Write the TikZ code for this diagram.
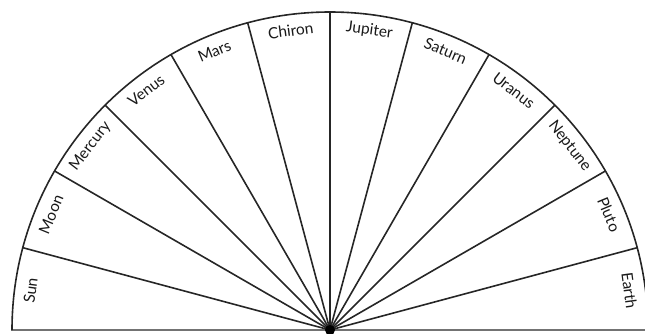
\documentclass[tikz,border=0pt]{standalone}
\usepackage{fontspec}
\setmainfont{Lato}
\usetikzlibrary{calc}
\begin{document}
\begin{tikzpicture}[x=1pt,y=1pt,
  spoke/.style={line width=1.6pt,black!85},
  rim/.style={line width=1.6pt,black!85},
  base/.style={line width=1.8pt,black!55},
  lbl/.style={font=\fontsize{15.5}{15.5}\selectfont,inner sep=0pt,text=black!90}]
\useasboundingbox (0,0) rectangle (645,333);
\coordinate (c) at (330,3);
\coordinate (bl) at (11,3);
\coordinate (br) at (645,3);
\draw[base] (bl) -- (br);
\draw[rim] (c) ++(180:318) arc[start angle=180,end angle=0,radius=318];
\foreach \a in {15,30,...,165}{
  \draw[spoke] (c) -- ++(\a:318);
}
\fill (c) circle[radius=5];
\foreach \n/\a in {Sun/172.5,Moon/157.5,Mercury/142.5,Venus/127.5,Mars/112.5,Chiron/97.5,Jupiter/82.5,Saturn/67.5,Uranus/52.5,Neptune/37.5,Pluto/22.5,Earth/7.5}{
  \node[lbl,rotate=\a-90] (\n) at ($(c)+(\a:302)$) {\n};
}
\end{tikzpicture}
\end{document}
